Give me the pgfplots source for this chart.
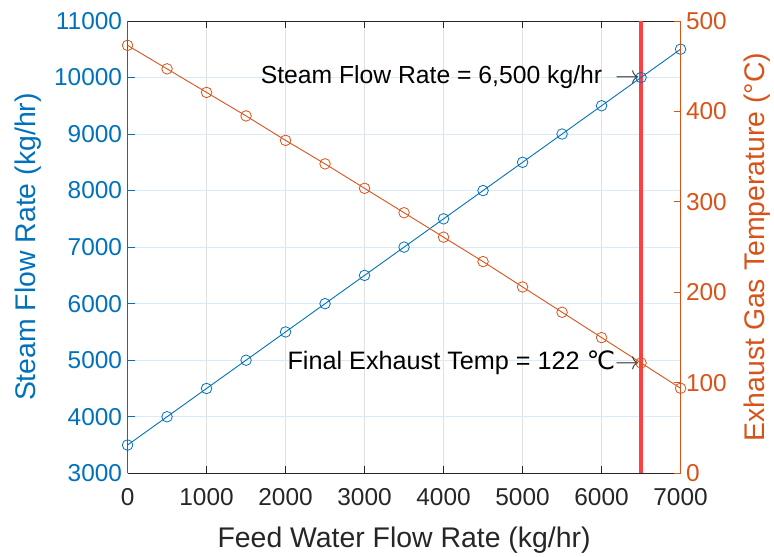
\documentclass[border=0pt]{standalone}
\usepackage{fontspec}
\setmainfont{Liberation Sans}
\newfontfamily\dejavu{DejaVu Sans}
\usepackage{pgfplots}
\pgfplotsset{compat=1.18}

\definecolor{mblue}{RGB}{0,114,189}
\definecolor{morange}{RGB}{217,83,25}
\definecolor{mdark}{RGB}{38,38,38}
\definecolor{xgrid}{RGB}{225,225,225}
\definecolor{ygrid}{RGB}{218,234,246}
\definecolor{mred}{RGB}{255,64,64}

\pgfplotsset{
  base/.style={
    scale only axis, width=555pt, height=454pt,
    xmin=0, xmax=7000,
    scaled x ticks=false, scaled y ticks=false,
    /pgf/number format/assume math mode=true,
    /pgf/number format/1000 sep={},
    tick label style={font=\fontsize{24.5}{29}\selectfont},
    label style={font=\fontsize{28.5}{33}\selectfont},
  },
}

\begin{document}
\begin{tikzpicture}
% left axis: steam flow rate
\begin{axis}[base, name=main,
  ymin=3000, ymax=11000,
  xtick={0,1000,...,7000}, ytick={3000,4000,...,11000},
  axis y line*=left,
  xtick align=inside, ytick align=inside, major tick length=7pt,
  x axis line style={mdark, line width=0.8pt},
  y axis line style={mblue, line width=0.8pt},
  x tick style={mdark, line width=0.8pt},
  y tick style={mblue, line width=0.8pt},
  xticklabel style={text=mdark, yshift=-12pt},
  yticklabel style={text=mblue, xshift=-2pt},
  xmajorgrids, ymajorgrids,
  x grid style={xgrid, line width=0.8pt},
  y grid style={ygrid, line width=0.8pt},
  xlabel={Feed Water Flow Rate (kg/hr)},
  ylabel={Steam Flow Rate (kg/hr)},
  xlabel style={text=mdark, at={(axis description cs:0.5,-0.148)}, anchor=center},
  ylabel style={text=mblue, at={(axis description cs:-0.18,0.5)}, anchor=center},
]
\addplot[mred, line width=4pt, forget plot] coordinates {(6500,3000) (6500,11000)};
\addplot[mblue, line width=0.9pt, mark=o, mark size=5.3pt, mark options={line width=0.8pt}]
  coordinates {
  (0,3500) (500,4000) (1000,4500) (1500,5000) (2000,5500) (2500,6000)
  (3000,6500) (3500,7000) (4000,7500) (4500,8000) (5000,8500) (5500,9000)
  (6000,9500) (6500,10000) (7000,10500)
  };
\node[anchor=east, inner sep=1pt, font=\fontsize{24.8}{29}\selectfont, text=black]
  at (axis cs:6500,10000) {Steam Flow Rate = 6,500 kg/hr\hspace{13pt}\textcolor{mdark}{$\rightarrow$}};
\end{axis}

% right axis: exhaust gas temperature
\begin{axis}[base,
  ymin=0, ymax=500, ytick={0,100,...,500},
  axis y line*=right, axis x line=none,
  ytick align=inside, major tick length=7pt,
  y axis line style={morange, line width=0.8pt},
  y tick style={morange, line width=0.8pt},
  yticklabel style={text=morange, xshift=2pt},
  ylabel={Exhaust Gas Temperature (°C)},
  ylabel style={text=morange, at={(axis description cs:1.139,0.5)}, anchor=center},
]
\addplot[morange, line width=0.9pt, mark=o, mark size=5.3pt, mark options={line width=0.8pt}]
  coordinates {
  (0,473) (500,447) (1000,421) (1500,395) (2000,368) (2500,342)
  (3000,315) (3500,288) (4000,261) (4500,234) (5000,206) (5500,178)
  (6000,150) (6500,122) (7000,94)
  };
\node[anchor=east, inner sep=1pt, font=\fontsize{25.3}{29}\selectfont, text=black]
  at (axis cs:6500,122) {Final Exhaust Temp = 122 {\dejavu ℃}\textcolor{mdark}{$\rightarrow$}};
\end{axis}

\path (main.south west) +(-128pt,-79pt) (main.north east) +(91pt,21pt);
\end{tikzpicture}
\end{document}
